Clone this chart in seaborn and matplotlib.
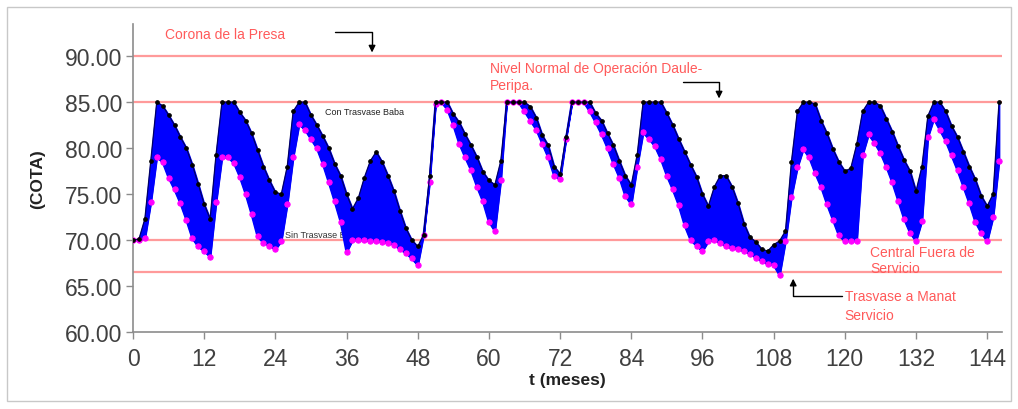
import numpy as np
import pandas as pd
import matplotlib
matplotlib.use("Agg")
import matplotlib.pyplot as plt
import seaborn as sns
from matplotlib.patches import Rectangle

# ---------------- data ----------------
meses = list(range(0, 147))

con_trasvase = [
    70.0, 70.1, 72.3, 78.6, 85.0, 84.6, 83.6, 82.5, 81.2, 80.0,
    78.2, 76.1, 73.9, 72.3, 79.3, 85.0, 85.0, 85.0, 83.9, 83.0,
    81.6, 79.8, 78.0, 76.5, 75.2, 75.0, 78.0, 84.0, 85.0, 85.0,
    83.6, 82.5, 81.3, 80.0, 78.3, 77.0, 75.0, 73.4, 74.6, 76.8,
    78.6, 79.6, 78.5, 77.0, 75.3, 73.2, 71.3, 70.0, 69.3, 70.6,
    77.0, 85.0, 85.0, 85.0, 83.7, 82.8, 81.5, 80.3, 79.0, 77.4,
    76.5, 76.0, 78.6, 85.0, 85.0, 85.0, 85.0, 84.5, 83.3, 81.4,
    80.3, 78.0, 77.2, 81.2, 85.0, 85.0, 85.0, 85.0, 83.8, 83.0,
    81.6, 80.3, 78.6, 77.0, 76.0, 79.3, 85.0, 85.0, 85.0, 85.0,
    83.8, 82.5, 81.0, 79.6, 78.2, 76.9, 75.0, 73.7, 75.8, 77.0,
    77.0, 75.8, 74.0, 71.8, 70.3, 69.8, 69.0, 68.8, 69.5, 69.9,
    71.0, 78.5, 84.0, 85.0, 85.0, 84.8, 83.0, 81.6, 79.9, 78.5,
    77.5, 77.8, 80.4, 84.0, 85.0, 85.0, 84.6, 83.2, 81.8, 80.2,
    78.7, 77.5, 75.3, 78.0, 83.5, 85.0, 85.0, 84.0, 82.4, 81.2,
    79.6, 78.0, 76.6, 74.8, 73.7, 75.0, 85.0,
]

sin_trasvase = [
    70.0, 70.0, 70.2, 74.1, 79.0, 78.5, 76.8, 75.5, 74.0, 72.2,
    70.2, 69.3, 68.8, 68.2, 74.1, 79.0, 79.0, 78.4, 76.9, 75.0,
    72.8, 70.4, 69.7, 69.4, 69.0, 69.9, 73.9, 79.0, 82.6, 82.0,
    81.0, 80.0, 78.3, 76.3, 74.2, 72.0, 68.7, 70.0, 70.0, 70.0,
    69.9, 69.9, 69.8, 69.7, 69.5, 69.0, 68.6, 68.0, 67.3, 70.6,
    76.3, 84.8, 85.0, 84.2, 82.5, 80.5, 79.0, 77.6, 75.8, 74.2,
    72.0, 71.0, 76.5, 85.0, 85.0, 85.0, 84.0, 83.0, 82.0, 80.5,
    79.0, 77.0, 76.6, 81.0, 85.0, 85.0, 85.0, 84.0, 82.8, 81.5,
    80.0, 78.3, 76.8, 74.8, 73.9, 78.0, 81.7, 81.0, 80.2, 78.8,
    77.0, 75.5, 73.8, 71.6, 70.0, 69.4, 68.8, 69.9, 70.0, 69.7,
    69.3, 69.1, 69.0, 68.8, 68.5, 68.1, 67.7, 67.4, 67.3, 66.2,
    69.9, 74.7, 77.9, 79.9, 79.0, 77.3, 75.8, 73.9, 72.2, 70.5,
    69.9, 69.9, 69.9, 79.3, 81.5, 80.6, 79.5, 78.0, 76.3, 74.3,
    72.3, 70.8, 69.9, 72.1, 81.2, 83.2, 82.0, 80.8, 79.2, 77.6,
    75.8, 74.0, 72.0, 70.8, 69.9, 72.5, 78.6,
]

niveles = [90.0, 85.0, 70.0, 66.5]
y_ticks = [60, 65, 70, 75, 80, 85, 90]
x_ticks = list(range(0, 145, 12))

df = pd.DataFrame({"t": meses, "con": con_trasvase, "sin": sin_trasvase})

# ---------------- style ----------------
sns.set_theme(style="white")
plt.rcParams["font.family"] = ["Liberation Sans", "DejaVu Sans"]

fig = plt.figure(figsize=(10.18, 4.10), dpi=100)
fig.patch.set_facecolor("white")
fig.patches.append(Rectangle((7 / 1018, 8 / 410), 1004 / 1018, 394 / 410,
                             transform=fig.transFigure, fill=False,
                             edgecolor="#c8c8c8", linewidth=1.0))

ax = fig.add_axes([133 / 1018, 77 / 410, 869 / 1018, 308 / 410])
ax.set_facecolor("white")

red = "#ff5a5a"
for lv in niveles:
    ax.axhline(lv, color="#ff9a9a", linewidth=1.6, zorder=1)

# small label partially covered by the fill
ax.text(25.6, 70.6, "Sin Trasvase Baba", fontsize=6.5, color="#333333",
        ha="left", va="center", zorder=1.5)

ax.fill_between(df["t"], df["sin"], df["con"], color="#0000ff",
                linewidth=1.2, edgecolor="#0000ff", zorder=2)

sns.lineplot(data=df, x="t", y="sin", ax=ax, color="#0000ff", linewidth=1.6,
             marker="o", markersize=3.8, markerfacecolor="#ff00ff",
             markeredgecolor="#ff00ff", zorder=3)
sns.lineplot(data=df, x="t", y="con", ax=ax, color="#000066", linewidth=0.9,
             marker="o", markersize=2.6, markerfacecolor="black",
             markeredgecolor="black", zorder=4)

ax.set_xlim(0, 146.5)
ax.set_ylim(60, 93.5)
ax.set_xticks(x_ticks)
ax.set_xticklabels([str(v) for v in x_ticks])
ax.set_yticks(y_ticks)
ax.set_yticklabels([f"{v:.2f}" for v in y_ticks])

for s in ["top", "right"]:
    ax.spines[s].set_visible(False)
for s in ["left", "bottom"]:
    ax.spines[s].set_color("#8c8c8c")
    ax.spines[s].set_linewidth(1.2)

ax.tick_params(axis="both", which="major", direction="out", length=5,
               width=1.0, color="#8c8c8c", labelcolor="#404040",
               labelsize=16.5, left=True, bottom=True)
ax.tick_params(axis="x", pad=6)
ax.tick_params(axis="y", pad=3)

ax.set_xlabel("t (meses)", fontsize=12.5, fontweight="bold", color="#222222",
              labelpad=1)
ax.set_ylabel("(COTA)", fontsize=12.5, fontweight="bold", color="#222222",
              labelpad=14)

# ---------------- annotations ----------------
ax.text(5.4, 92.4, "Corona de la Presa", fontsize=10, color=red,
        ha="left", va="center")
ax.plot([34.1, 40.3, 40.3], [92.6, 92.6, 90.9], color="black", linewidth=1.0,
        zorder=5)
ax.annotate("", xy=(40.3, 90.1), xytext=(40.3, 91.2),
            arrowprops=dict(arrowstyle="-|>", color="black", lw=1.0,
                            mutation_scale=10), zorder=5)

ax.text(60.2, 89.5, "Nivel Normal de Operación Daule-\nPeripa.", fontsize=10,
        color=red, ha="left", va="top", linespacing=1.3)
ax.plot([92.7, 98.8, 98.8], [87.2, 87.2, 86.0], color="black", linewidth=1.0,
        zorder=5)
ax.annotate("", xy=(98.8, 85.1), xytext=(98.8, 86.2),
            arrowprops=dict(arrowstyle="-|>", color="black", lw=1.0,
                            mutation_scale=10), zorder=5)

ax.text(32.4, 84.0, "Con Trasvase Baba", fontsize=6.5, color="#222222",
        ha="left", va="center", zorder=5)

ax.text(124.3, 69.5, "Central Fuera de\nServicio", fontsize=10, color=red,
        ha="left", va="top", linespacing=1.25, zorder=5)

ax.text(120.0, 64.7, "Trasvase a Manat\nServicio", fontsize=10, color=red,
        ha="left", va="top", linespacing=1.5, zorder=5)
ax.plot([119.6, 111.3, 111.3], [63.9, 63.9, 65.2], color="black",
        linewidth=1.0, zorder=5)
ax.annotate("", xy=(111.3, 66.1), xytext=(111.3, 65.0),
            arrowprops=dict(arrowstyle="-|>", color="black", lw=1.0,
                            mutation_scale=10), zorder=5)

fig.savefig("out.png", dpi=100, facecolor="white")
